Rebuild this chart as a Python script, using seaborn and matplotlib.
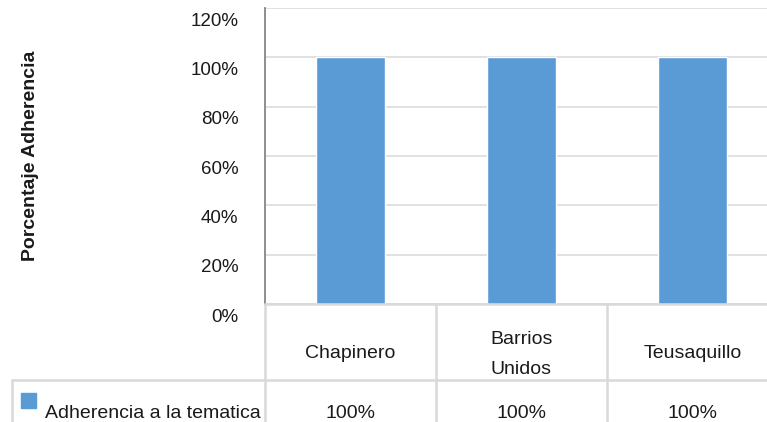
import matplotlib
matplotlib.use("Agg")
import matplotlib.pyplot as plt
import matplotlib.transforms as mtransforms
import seaborn as sns
import pandas as pd

categories = ["Chapinero", "Barrios\nUnidos", "Teusaquillo"]
values = [1.0, 1.0, 1.0]
series_name = "Adherencia a la tematica"
yticks = [0, 0.2, 0.4, 0.6, 0.8, 1.0, 1.2]

sns.set_style("white")
plt.rcParams['font.family'] = ['Liberation Sans', 'DejaVu Sans']

W, H = 767, 422
fig = plt.figure(figsize=(W / 100, H / 100), dpi=100)
# plot area in pixel terms: left 265, 0% at y=304, 120% at y=8, 171 px per category
ax = fig.add_axes([265 / W, (H - 304) / H, 513 / W, 296 / H])

df = pd.DataFrame({"cat": categories, "val": values})
sns.barplot(data=df, x="cat", y="val", color="#5B9BD5", width=0.4, saturation=1, ax=ax)

ax.set_ylim(0, 1.2)
ax.set_xlim(-0.5, 2.5)
ax.set_yticks(yticks)
ax.set_yticklabels([f"{int(round(t * 100))}%" for t in yticks])
ax.set_xticks([])
ax.set_xlabel("")
ax.set_ylabel("")
ax.yaxis.grid(True, color="#d9d9d9", lw=1.1)
ax.set_axisbelow(True)
for s in ["top", "right", "bottom"]:
    ax.spines[s].set_visible(False)
ax.spines["left"].set_color("#868686")
ax.spines["left"].set_linewidth(1.3)
ax.tick_params(axis="y", length=0, pad=19, labelsize=13.5, labelcolor="#1a1a1a")
off = mtransforms.ScaledTranslation(0, -11 / 100, fig.dpi_scale_trans)
for lab in ax.get_yticklabels():
    lab.set_transform(lab.get_transform() + off)

fig.text(31 / W, 1 - 156 / H, "Porcentaje Adherencia", rotation=90, ha="center", va="center",
         fontsize=14, fontweight="bold", color="#1a1a1a")

# data table below the plot
tc = "#d9d9d9"
blend = mtransforms.blended_transform_factory(ax.transData, fig.transFigure)
def fy(py):
    return 1 - py / H
def fx(px):
    return px / W
lines = [
    ([fx(265), fx(767)], [fy(304), fy(304)]),
    ([fx(12), fx(767)], [fy(380), fy(380)]),
    ([fx(12), fx(12)], [fy(380), fy(422)]),
    ([fx(265), fx(265)], [fy(304), fy(422)]),
]
for xs, ys in lines:
    fig.add_artist(plt.Line2D(xs, ys, color=tc, lw=1.8, transform=fig.transFigure))
for i in range(len(categories)):
    xb = i + 0.5
    fig.add_artist(plt.Line2D([xb, xb], [fy(304), fy(422)], color=tc, lw=1.8, transform=blend))
    t = fig.text(0, fy(354), categories[i], transform=blend, ha="center", va="center",
                 fontsize=14, color="#1a1a1a", linespacing=2.0)
    t.set_x(i)
    t = fig.text(0, fy(413), f"{int(round(values[i] * 100))}%", transform=blend, ha="center",
                 va="center", fontsize=14, color="#1a1a1a")
    t.set_x(i)

fig.add_artist(plt.Rectangle((fx(21), fy(408)), fx(15), 15 / H, color="#5B9BD5",
                             transform=fig.transFigure))
fig.text(fx(45), fy(413), series_name, ha="left", va="center", fontsize=14, color="#1a1a1a")

fig.savefig("out.png", dpi=100)
